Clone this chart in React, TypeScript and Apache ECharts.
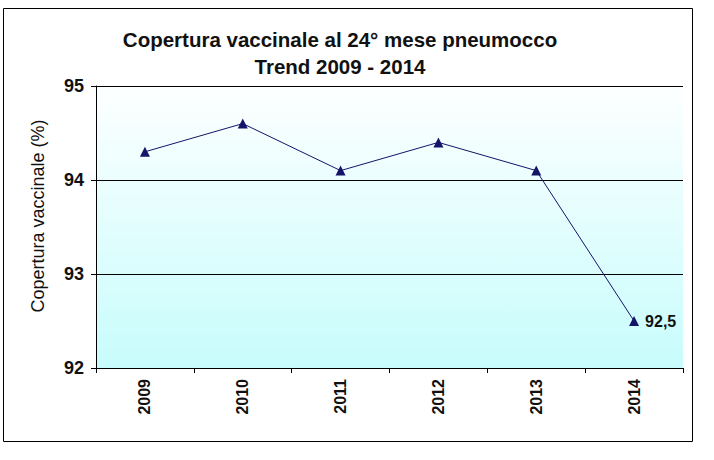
import React, { useEffect, useRef } from "react";
import * as echarts from "echarts";

const years = ["2009", "2010", "2011", "2012", "2013", "2014"];
const coverage = [94.3, 94.6, 94.1, 94.4, 94.1, 92.5];
const yTicks = { min: 92, max: 95, interval: 1 };
const titleLines = ["Copertura vaccinale al 24° mese pneumocco", "Trend 2009 - 2014"];
const yAxisName = "Copertura vaccinale (%)";

const FONT = "'Liberation Sans', Arial, sans-serif";

export default function App() {
  const ref = useRef<HTMLDivElement>(null);
  useEffect(() => {
    if (!ref.current) return;
    const chart = echarts.init(ref.current, undefined, { renderer: "svg" });
    const lastIdx = coverage.length - 1;
    chart.setOption({
      animation: false,
      backgroundColor: "#ffffff",
      title: {
        text: titleLines.join("\n"),
        left: 335,
        top: 21,
        textAlign: "center",
        textStyle: {
          fontFamily: FONT,
          fontSize: 20.5,
          fontWeight: "bold",
          color: "#111",
          lineHeight: 27,
        },
      },
      graphic: [
        {
          type: "rect",
          shape: { x: 3.5, y: 8.5, width: 689, height: 433 },
          style: { fill: "none", stroke: "#000", lineWidth: 1 },
          silent: true,
          z: 100,
        },
        {
          type: "text",
          x: 38,
          y: 216,
          rotation: Math.PI / 2,
          style: {
            text: yAxisName,
            fontFamily: FONT,
            fontSize: 18,
            fill: "#111",
            textAlign: "center",
            textVerticalAlign: "middle",
          },
          silent: true,
        },
      ],
      grid: {
        left: 96,
        right: 31,
        top: 86,
        bottom: 92,
        show: true,
        borderWidth: 0,
        backgroundColor: new echarts.graphic.LinearGradient(0, 0, 0, 1, [
          { offset: 0, color: "#fdffff" },
          { offset: 1, color: "#c8fcfc" },
        ]),
      },
      xAxis: {
        type: "category",
        data: years,
        boundaryGap: true,
        axisLine: { show: true, lineStyle: { color: "#000", width: 1 } },
        axisTick: { show: true, length: 5, lineStyle: { color: "#000" } },
        axisLabel: {
          rotate: 90,
          margin: 11,
          fontFamily: FONT,
          fontSize: 16,
          fontWeight: "bold",
          color: "#111",
        },
      },
      yAxis: {
        type: "value",
        min: yTicks.min,
        max: yTicks.max,
        interval: yTicks.interval,
        axisLine: { show: true, lineStyle: { color: "#000", width: 1 } },
        axisTick: { show: true, length: 5, lineStyle: { color: "#000" } },
        axisLabel: {
          margin: 12,
          fontFamily: FONT,
          fontSize: 18,
          fontWeight: "bold",
          color: "#111",
        },
        splitLine: { show: true, lineStyle: { color: "#000", width: 1 } },
      },
      series: [
        {
          type: "line",
          data: coverage.map((v, i) =>
            i === lastIdx
              ? {
                  value: v,
                  label: {
                    show: true,
                    position: "right",
                    distance: 6,
                    formatter: (p: any) => String(p.value).replace(".", ","),
                    fontFamily: FONT,
                    fontSize: 16,
                    fontWeight: "bold",
                    color: "#111",
                  },
                }
              : v
          ),
          symbol: "triangle",
          symbolSize: 10,
          itemStyle: { color: "#14146b" },
          lineStyle: { color: "#14146b", width: 1 },
        },
      ],
    });
    return () => chart.dispose();
  }, []);
  return (
    <div
      ref={ref}
      style={{ position: "fixed", left: 0, top: 0, width: 714, height: 460 }}
    />
  );
}
